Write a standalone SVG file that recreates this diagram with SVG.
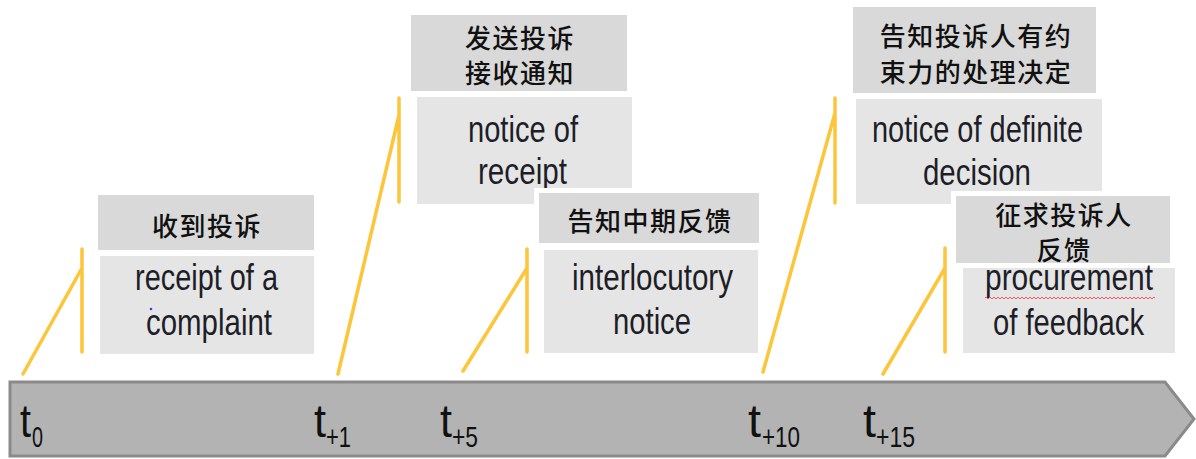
<svg xmlns="http://www.w3.org/2000/svg" width="1196" height="459" viewBox="0 0 1196 459">
<style>
.hd{fill:#d9d9d9}
.bd{fill:#e5e5e5}
.halo{fill:#ffffff}
.zh{font-family:"Noto Sans CJK SC","Noto Sans",sans-serif;font-size:26px;font-weight:500;fill:#111;text-anchor:middle;letter-spacing:1.5px}
.en{font-family:"Liberation Sans",Arial,sans-serif;font-size:36px;fill:#1e1e28}
.tt{font-family:"Liberation Sans",Arial,sans-serif;font-size:46px;fill:#111}
.ts{font-family:"Liberation Sans",Arial,sans-serif;font-size:30px;fill:#111}
.yl{stroke:#fcc53a;stroke-width:3.5;fill:none;stroke-linecap:round}
</style>
<defs>
<pattern id="wave" width="4" height="4" patternUnits="userSpaceOnUse">
<path d="M0 3 L2 1 L4 3" stroke="#e85a5a" stroke-width="1" fill="none"/>
</pattern>
<clipPath id="clip5"><rect x="956" y="196" width="214" height="67"/></clipPath>
</defs>

<g id="timeline">
<path d="M10 382 L1165 382 L1194 419 L1165 456 L10 456 Z" fill="#b3b3b3" stroke="#8a8a8a" stroke-width="3"/>
<text class="tt" x="20" y="437" textLength="11" lengthAdjust="spacingAndGlyphs">t</text>
<text class="ts" x="32" y="447" textLength="11" lengthAdjust="spacingAndGlyphs">0</text>
<text class="tt" x="314" y="437" textLength="12" lengthAdjust="spacingAndGlyphs">t</text>
<text class="ts" x="326" y="447" textLength="25" lengthAdjust="spacingAndGlyphs">+1</text>
<text class="tt" x="440" y="437" textLength="12" lengthAdjust="spacingAndGlyphs">t</text>
<text class="ts" x="452" y="447" textLength="26" lengthAdjust="spacingAndGlyphs">+5</text>
<text class="tt" x="748" y="437" textLength="13" lengthAdjust="spacingAndGlyphs">t</text>
<text class="ts" x="762" y="447" textLength="38" lengthAdjust="spacingAndGlyphs">+10</text>
<text class="tt" x="863" y="437" textLength="13" lengthAdjust="spacingAndGlyphs">t</text>
<text class="ts" x="876" y="447" textLength="39" lengthAdjust="spacingAndGlyphs">+15</text>
</g>

<g id="connectors">
<path class="yl" d="M23 374 L82 268 M82 249 L82 352"/>
<path class="yl" d="M338 374 L399 115 M399 98 L399 202"/>
<path class="yl" d="M463 371 L527 268 M527 249 L527 352"/>
<path class="yl" d="M763 372 L835 113 M835 98 L835 203"/>
<path class="yl" d="M883 374 L945 268 M945 248 L945 352"/>
</g>

<g id="node-t0">
<rect class="hd" x="98" y="195" width="216" height="55"/>
<text class="zh" x="207" y="236">收到投诉</text>
<rect class="bd" x="100" y="256" width="214" height="98"/>
<text class="en" x="135" y="290" textLength="143" lengthAdjust="spacingAndGlyphs">receipt of a</text>
<text class="en" x="146" y="335" textLength="126" lengthAdjust="spacingAndGlyphs">complaint</text>
<circle cx="151" cy="309" r="1.3" fill="#3a3aff"/>
</g>

<g id="node-t1">
<rect class="hd" x="411" y="15" width="216" height="76"/>
<text class="zh" x="520" y="48">发送投诉</text>
<text class="zh" x="520" y="83">接收通知</text>
<rect class="bd" x="417" y="97" width="215" height="107"/>
<text class="en" x="468" y="142" textLength="110" lengthAdjust="spacingAndGlyphs">notice of</text>
<text class="en" x="478" y="184" textLength="89" lengthAdjust="spacingAndGlyphs">receipt</text>
</g>

<g id="node-t5">
<rect class="halo" x="534" y="188" width="230" height="60"/>
<rect class="hd" x="539" y="193" width="220" height="50"/>
<text class="zh" x="650" y="231">告知中期反馈</text>
<rect class="bd" x="544" y="250" width="214" height="103"/>
<text class="en" x="572" y="290" textLength="161" lengthAdjust="spacingAndGlyphs">interlocutory</text>
<text class="en" x="613" y="334" textLength="78" lengthAdjust="spacingAndGlyphs">notice</text>
</g>

<g id="node-t10">
<rect class="hd" x="853" y="7" width="243" height="86"/>
<text class="zh" x="976" y="46">告知投诉人有约</text>
<text class="zh" x="976" y="82">束力的处理决定</text>
<rect class="bd" x="856" y="99" width="246" height="105"/>
<text class="en" x="872" y="142" textLength="211" lengthAdjust="spacingAndGlyphs">notice of definite</text>
<text class="en" x="923" y="185" textLength="108" lengthAdjust="spacingAndGlyphs">decision</text>
</g>

<g id="node-t15">
<rect class="halo" x="951" y="191" width="224" height="77"/>
<rect class="hd" x="956" y="196" width="214" height="67"/>
<g clip-path="url(#clip5)">
<text class="zh" x="1064" y="225">征求投诉人</text>
<text class="zh" x="1064" y="260">反馈</text>
</g>
<rect class="halo" x="958" y="263" width="222" height="95"/>
<rect class="bd" x="963" y="268" width="212" height="85"/>
<text class="en" x="985" y="290" textLength="168" lengthAdjust="spacingAndGlyphs">procurement</text>
<rect x="985" y="295" width="170" height="4" fill="url(#wave)"/>
<text class="en" x="993" y="335" textLength="151" lengthAdjust="spacingAndGlyphs">of feedback</text>
</g>
</svg>
